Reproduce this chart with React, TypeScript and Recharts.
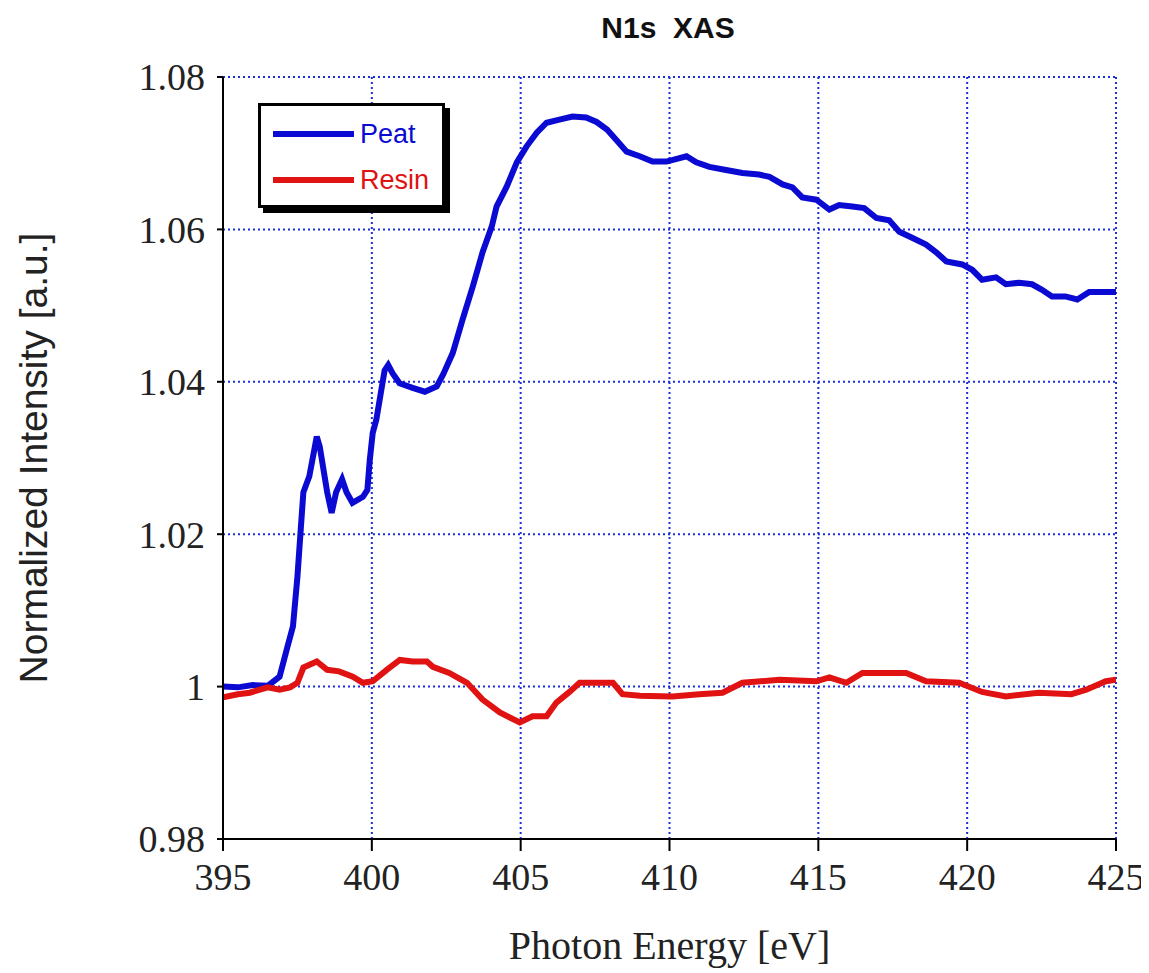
import React from "react";
import { LineChart, Line, XAxis, YAxis, CartesianGrid } from "recharts";

const peatX = [395.0, 395.5, 396.0, 396.5, 396.9, 397.15, 397.35, 397.5, 397.6, 397.7, 397.9, 398.15, 398.25, 398.5, 398.65, 398.8, 399.0, 399.15, 399.35, 399.7, 399.85, 399.93, 400.03, 400.15, 400.3, 400.43, 400.55, 400.7, 400.93, 401.37, 401.78, 402.18, 402.4, 402.72, 403.05, 403.39, 403.72, 404.03, 404.19, 404.53, 404.87, 405.2, 405.54, 405.87, 406.3, 406.74, 407.2, 407.55, 407.9, 408.2, 408.56, 409.0, 409.43, 409.9, 410.57, 410.9, 411.34, 411.9, 412.45, 413.0, 413.36, 413.8, 414.13, 414.46, 414.93, 415.37, 415.7, 416.14, 416.54, 416.95, 417.38, 417.72, 418.15, 418.62, 418.96, 419.3, 419.83, 420.17, 420.5, 420.97, 421.3, 421.75, 422.18, 422.5, 422.85, 423.3, 423.7, 424.1, 424.5, 425.0];
const peatY = [1.0, 0.9999, 1.0002, 1.0001, 1.0013, 1.005, 1.0079, 1.0144, 1.02, 1.0255, 1.0276, 1.0328, 1.0315, 1.0255, 1.0228, 1.0255, 1.0272, 1.0255, 1.0241, 1.0249, 1.0258, 1.0297, 1.0333, 1.035, 1.0385, 1.0415, 1.0422, 1.0411, 1.0398, 1.0392, 1.0387, 1.0394, 1.041, 1.0438, 1.0482, 1.0525, 1.057, 1.0604, 1.063, 1.0656, 1.0688, 1.0709, 1.0727, 1.074, 1.0744, 1.0748, 1.0747, 1.0741, 1.0731, 1.0718, 1.0702, 1.0696, 1.0689, 1.0689, 1.0696, 1.0688, 1.0682, 1.0678, 1.0674, 1.0672, 1.0669, 1.0659, 1.0655, 1.0642, 1.0639, 1.0626, 1.0632, 1.063, 1.0628, 1.0615, 1.0612, 1.0597, 1.0589, 1.058, 1.057, 1.0558, 1.0554, 1.0547, 1.0534, 1.0537, 1.0528, 1.053, 1.0528, 1.0521, 1.0512, 1.0512, 1.0508, 1.0518, 1.0518, 1.0518];

const resinX = [395.0, 395.5, 395.9, 396.5, 396.9, 397.25, 397.5, 397.7, 398.15, 398.5, 398.9, 399.36, 399.7, 400.03, 400.5, 400.94, 401.37, 401.85, 402.05, 402.6, 403.2, 403.72, 404.3, 404.97, 405.4, 405.87, 406.2, 406.64, 406.98, 408.1, 408.42, 409.0, 410.1, 411.0, 411.78, 412.45, 413.7, 414.93, 415.37, 415.94, 416.48, 417.95, 418.62, 419.73, 420.5, 421.3, 422.4, 423.5, 424.0, 424.66, 425.0];
const resinY = [0.9986, 0.999, 0.9992, 0.9999, 0.9996, 0.9999, 1.0005, 1.0025, 1.0033, 1.0022, 1.002, 1.0013, 1.0005, 1.0007, 1.0022, 1.0035, 1.0033, 1.0033, 1.0026, 1.0018, 1.0005, 0.9983, 0.9966, 0.9953, 0.9961, 0.9961, 0.9979, 0.9993, 1.0005, 1.0005, 0.999, 0.9988, 0.9987, 0.999, 0.9992, 1.0005, 1.0009, 1.0007, 1.0012, 1.0005, 1.0018, 1.0018, 1.0007, 1.0005, 0.9993, 0.9987, 0.9992, 0.999, 0.9996, 1.0007, 1.0009];

const xTicks = [395, 400, 405, 410, 415, 420, 425];
const yTicks = [0.98, 1.0, 1.02, 1.04, 1.06, 1.08];

const seriesNames = ["Peat", "Resin"];
const seriesColors = ["#0a0ad2", "#e01212"];

const peatData = peatX.map((x, i) => ({ x, y: peatY[i] }));
const resinData = resinX.map((x, i) => ({ x, y: resinY[i] }));

const serif = "'Liberation Serif', 'Times New Roman', serif";
const sans = "'Liberation Sans', Arial, sans-serif";

function LegendBox() {
  return (
    <div style={{ position: "absolute", left: 250, top: 95, width: 192, height: 110, pointerEvents: "none" }}>
      <div style={{ position: "absolute", left: 5, top: 5, width: 187, height: 105, background: "#000" }} />
      <div
        style={{
          position: "absolute",
          left: 0,
          top: 0,
          width: 181,
          height: 99,
          background: "#fff",
          border: "3px solid #000",
        }}
      >
        {seriesNames.map((n, i) => (
          <div key={n} style={{ position: "absolute", left: 12, top: 13 + i * 46, display: "flex", alignItems: "center" }}>
            <div style={{ width: 81, height: 6, background: seriesColors[i] }} />
            <span style={{ marginLeft: 6, fontFamily: sans, fontSize: 27, color: seriesColors[i], lineHeight: "30px" }}>{n}</span>
          </div>
        ))}
      </div>
    </div>
  );
}

export default function App() {
  return (
    <div style={{ position: "relative", width: 1141, height: 965 }}>
      <LineChart width={1141} height={965} margin={{ top: 69, right: 33, left: 0, bottom: 0 }}>
        <CartesianGrid stroke="#1a2ee0" strokeWidth={2} strokeDasharray="2 3" />
        <XAxis
          type="number"
          dataKey="x"
          domain={[395, 425]}
          ticks={xTicks}
          height={134}
          allowDataOverflow
          stroke="#000"
          strokeWidth={2}
          tickSize={12}
          tickMargin={12}
          tick={{ fill: "#222", fontFamily: serif, fontSize: 38 }}
          label={{
            value: "Photon Energy [eV]",
            position: "insideBottom",
            offset: 14,
            style: { fill: "#222", fontFamily: serif, fontSize: 40 },
          }}
        />
        <YAxis
          type="number"
          dataKey="y"
          domain={[0.98, 1.08]}
          ticks={yTicks}
          width={215}
          allowDataOverflow
          stroke="#000"
          strokeWidth={2}
          tickSize={6}
          tickMargin={12}
          tickFormatter={(v: number) => (Math.abs(v - 1) < 1e-9 ? "1" : v.toFixed(2))}
          tick={{ fill: "#222", fontFamily: serif, fontSize: 38 }}
          label={{
            value: "Normalized Intensity [a.u.]",
            angle: -90,
            position: "insideLeft",
            offset: 25,
            style: { textAnchor: "middle", fill: "#222", fontFamily: sans, fontSize: 39 },
          }}
        />
        <Line
          data={peatData}
          dataKey="y"
          name="Peat"
          type="linear"
          stroke={seriesColors[0]}
          strokeWidth={6}
          dot={false}
          isAnimationActive={false}
        />
        <Line
          data={resinData}
          dataKey="y"
          name="Resin"
          type="linear"
          stroke={seriesColors[1]}
          strokeWidth={6}
          dot={false}
          isAnimationActive={false}
        />
      </LineChart>
      <div
        style={{
          position: "absolute",
          left: 0,
          width: 1320,
          top: 3,
          textAlign: "center",
          fontFamily: sans,
          fontWeight: "bold",
          fontSize: 30,
          color: "#111",
          pointerEvents: "none",
        }}
      >
        N1s&nbsp; XAS
      </div>
      <LegendBox />
    </div>
  );
}
